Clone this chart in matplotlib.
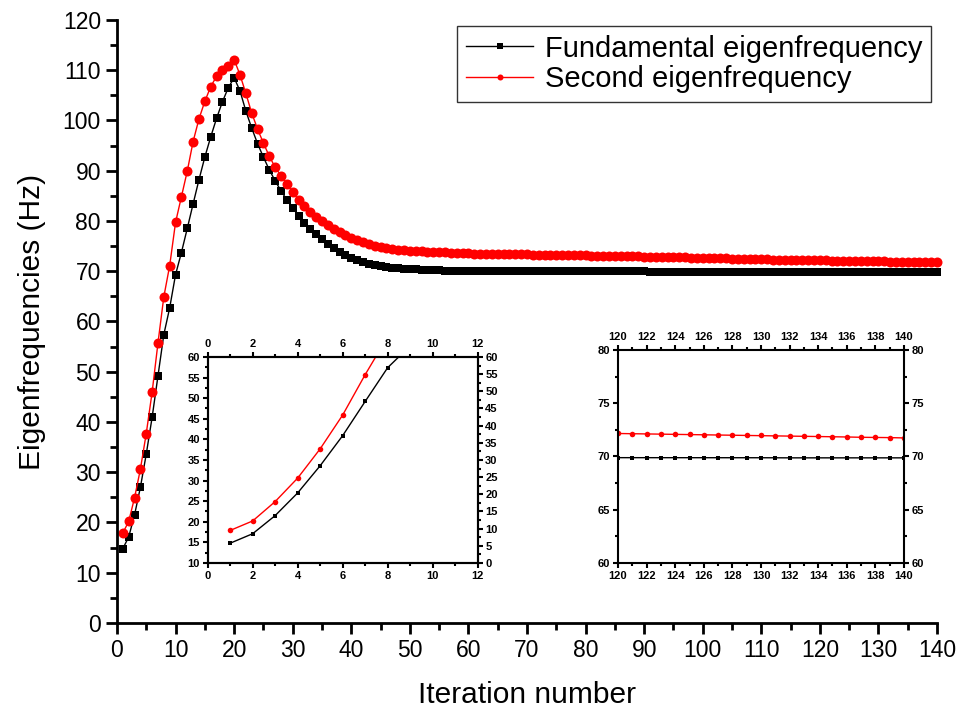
import matplotlib
matplotlib.use("Agg")
from matplotlib import pyplot as plt
from matplotlib.ticker import MultipleLocator

plt.rcParams['font.family'] = ['Liberation Sans', 'DejaVu Sans']

iterations = list(range(1, 141))

fundamental = [
    14.8, 17.1, 21.5, 27.0, 33.6, 40.9, 49.2, 57.4, 62.7, 69.3,
    73.7, 78.5, 83.4, 88.2, 92.7, 96.7, 100.4, 103.7, 106.5, 108.5,
    105.9, 101.9, 98.5, 95.4, 92.7, 90.2, 88.0, 86.0, 84.2, 82.6,
    81.0, 79.6, 78.4, 77.4, 76.4, 75.4, 74.6, 73.8, 73.2, 72.6,
    72.2, 71.8, 71.4, 71.2, 71.0, 70.8, 70.7, 70.6, 70.5, 70.4,
    70.35, 70.3, 70.25, 70.2, 70.15, 70.1, 70.1, 70.05, 70.05, 70.0,
    70.0, 70.0, 70.0, 70.0, 70.0, 70.0, 70.0, 70.0, 70.0, 70.0,
    69.98, 69.98, 69.98, 69.98, 69.98, 69.97, 69.97, 69.97, 69.97, 69.97,
    69.96, 69.96, 69.96, 69.96, 69.96, 69.95, 69.95, 69.95, 69.95, 69.95,
    69.94, 69.94, 69.94, 69.94, 69.94, 69.93, 69.93, 69.93, 69.93, 69.93,
    69.92, 69.92, 69.92, 69.92, 69.92, 69.91, 69.91, 69.91, 69.91, 69.91,
    69.9, 69.9, 69.9, 69.9, 69.9, 69.89, 69.89, 69.89, 69.89, 69.89,
    69.88, 69.88, 69.88, 69.88, 69.88, 69.88, 69.88, 69.88, 69.88, 69.88,
    69.87, 69.87, 69.87, 69.87, 69.87, 69.87, 69.87, 69.87, 69.87, 69.87,
]

second = [
    17.9, 20.2, 24.9, 30.6, 37.7, 45.9, 55.7, 64.9, 71.1, 79.7,
    84.8, 89.9, 95.8, 100.3, 103.8, 106.7, 108.8, 110.1, 110.9, 112.1,
    109.1, 105.4, 101.5, 98.3, 95.5, 92.9, 90.7, 89.0, 87.4, 85.8,
    84.2, 83.0, 81.8, 80.8, 80.0, 79.2, 78.4, 77.8, 77.2, 76.6,
    76.2, 75.8, 75.4, 75.0, 74.8, 74.6, 74.4, 74.3, 74.2, 74.1,
    74.0, 73.95, 73.9, 73.85, 73.8, 73.75, 73.7, 73.65, 73.6, 73.55,
    73.52, 73.5, 73.48, 73.46, 73.44, 73.42, 73.4, 73.38, 73.36, 73.34,
    73.32, 73.3, 73.28, 73.26, 73.24, 73.22, 73.2, 73.18, 73.16, 73.14,
    73.12, 73.1, 73.08, 73.05, 73.03, 73.0, 72.98, 72.95, 72.93, 72.9,
    72.88, 72.85, 72.83, 72.8, 72.78, 72.75, 72.73, 72.7, 72.68, 72.65,
    72.62, 72.6, 72.57, 72.54, 72.52, 72.49, 72.46, 72.43, 72.4, 72.37,
    72.34, 72.32, 72.3, 72.28, 72.26, 72.24, 72.22, 72.2, 72.18, 72.17,
    72.15, 72.12, 72.1, 72.08, 72.07, 72.05, 72.03, 72.0, 71.98, 71.97,
    71.95, 71.93, 71.9, 71.88, 71.86, 71.83, 71.8, 71.79, 71.77, 71.74,
]

fig = plt.figure(figsize=(9.69, 7.12), dpi=100)

# main axes
ax = fig.add_axes([0.1207, 0.125, 0.8463, 0.847])
ax.plot(iterations, fundamental, c='black', lw=1, marker='s', ms=6.3, mew=0,
        label='Fundamental eigenfrequency', clip_on=False)
ax.plot(iterations, second, c='red', lw=1, marker='o', ms=7.2, mew=0,
        label='Second eigenfrequency', clip_on=False)
ax.set_xlim(0, 140)
ax.set_ylim(0, 120)
ax.xaxis.set_major_locator(MultipleLocator(10))
ax.xaxis.set_minor_locator(MultipleLocator(5))
ax.yaxis.set_major_locator(MultipleLocator(10))
ax.yaxis.set_minor_locator(MultipleLocator(5))
ax.spines['top'].set_visible(False)
ax.spines['right'].set_visible(False)
ax.spines['left'].set_linewidth(2)
ax.spines['bottom'].set_linewidth(2)
ax.tick_params(axis='both', which='major', direction='out', length=8, width=2, labelsize=16.5)
ax.tick_params(axis='both', which='minor', direction='out', length=5, width=2)
ax.set_xlabel('Iteration number', fontsize=21.5, labelpad=14)
ax.set_ylabel('Eigenfrequencies (Hz)', fontsize=21.5, labelpad=12)

leg = ax.legend(loc='upper right', fontsize=21, frameon=True, fancybox=False,
                edgecolor='black', handlelength=2.3, borderaxespad=0.2,
                borderpad=0.3, labelspacing=0.1, handletextpad=0.4,
                markerscale=0.6)
leg.get_frame().set_linewidth(1)

# inset: start of the iterations
n1 = 12
ins1 = fig.add_axes([0.2143, 0.2093, 0.2786, 0.2893])
ins1.plot(iterations[:n1], fundamental[:n1], c='black', lw=1, marker='s', ms=3.5, mew=0)
ins1.plot(iterations[:n1], second[:n1], c='red', lw=1, marker='o', ms=4, mew=0)
ins1.set_xlim(0, 12)
ins1.set_ylim(10, 60)
ins1.xaxis.set_major_locator(MultipleLocator(2))
ins1.xaxis.set_minor_locator(MultipleLocator(1))
ins1.yaxis.set_major_locator(MultipleLocator(5))
ins1.yaxis.set_minor_locator(MultipleLocator(2.5))
ins1.tick_params(axis='both', which='major', direction='out', length=3.5, width=1.5,
                 labelsize=8, pad=2, top=True, labeltop=True)
ins1.tick_params(axis='both', which='minor', direction='out', length=2, width=1.5, top=True)
ins1_r = ins1.twinx()
ins1_r.set_ylim(0, 60)
ins1_r.yaxis.set_major_locator(MultipleLocator(5))
ins1_r.yaxis.set_minor_locator(MultipleLocator(2.5))
ins1_r.tick_params(axis='y', which='major', direction='out', length=3.5, width=1.5, labelsize=8, pad=2)
ins1_r.tick_params(axis='y', which='minor', direction='out', length=2, width=1.5)
for a in (ins1, ins1_r):
    for s in a.spines.values():
        s.set_linewidth(1.5)
    for lab in a.get_xticklabels() + a.get_yticklabels():
        lab.set_fontweight('bold')

# inset: end of the iterations
ins2 = fig.add_axes([0.6378, 0.2093, 0.2951, 0.2992])
ins2.plot(iterations, fundamental, c='black', lw=1, marker='s', ms=3.5, mew=0)
ins2.plot(iterations, second, c='red', lw=1, marker='o', ms=4, mew=0)
ins2.set_xlim(120, 140)
ins2.set_ylim(60, 80)
ins2.xaxis.set_major_locator(MultipleLocator(2))
ins2.xaxis.set_minor_locator(MultipleLocator(1))
ins2.yaxis.set_major_locator(MultipleLocator(5))
ins2.yaxis.set_minor_locator(MultipleLocator(2.5))
ins2.tick_params(axis='both', which='major', direction='out', length=3.5, width=1.5,
                 labelsize=8, pad=2, top=True, labeltop=True, right=True, labelright=True)
ins2.tick_params(axis='both', which='minor', direction='out', length=2, width=1.5,
                 top=True, right=True)
for s in ins2.spines.values():
    s.set_linewidth(1.5)
for lab in ins2.get_xticklabels() + ins2.get_yticklabels():
    lab.set_fontweight('bold')

plt.savefig('out.png', dpi=100)
